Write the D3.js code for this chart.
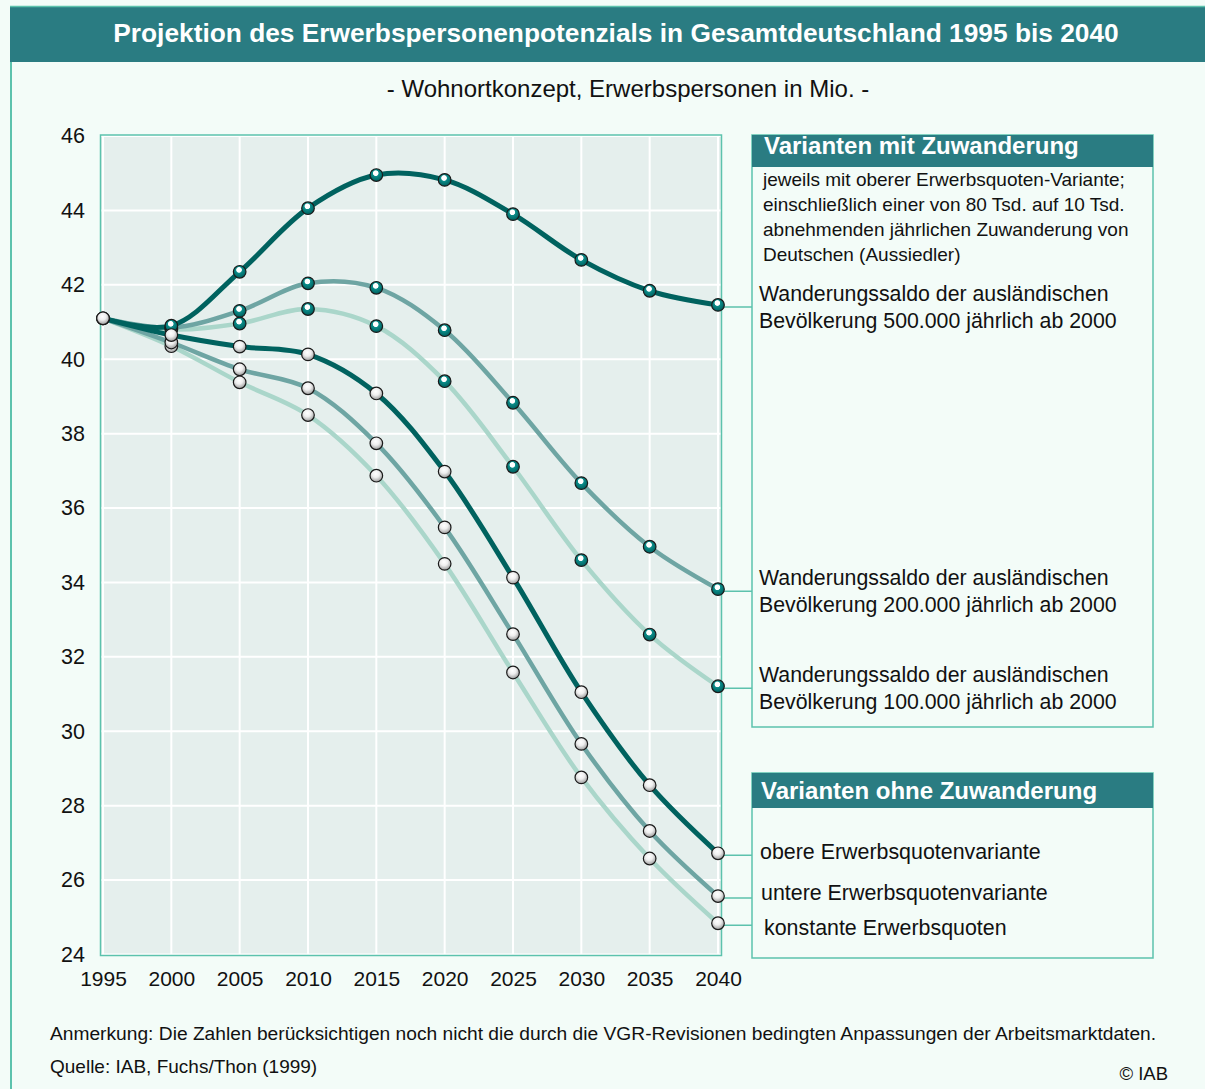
<!DOCTYPE html>
<html>
<head>
<meta charset="utf-8">
<script src="https://cdn.jsdelivr.net/npm/d3@7"></script>
<style>
  html, body { margin: 0; padding: 0; background: #f3fcf8; }
  svg { display: block; font-family: "Liberation Sans", Arial, sans-serif; }
</style>
</head>
<body>
<svg id="chart"></svg>
<script>
// data
const years = [1995, 2000, 2005, 2010, 2015, 2020, 2025, 2030, 2035, 2040];
const yTicks = [24, 26, 28, 30, 32, 34, 36, 38, 40, 42, 44, 46];

// Varianten mit Zuwanderung
const saldo500 = [41.1, 40.9, 42.35, 44.06, 44.95, 44.82, 43.9, 42.67, 41.84, 41.46];
const saldo200 = [41.1, 40.85, 41.3, 42.04, 41.92, 40.78, 38.83, 36.67, 34.96, 33.82];
const saldo100 = [41.1, 40.8, 40.96, 41.35, 40.89, 39.41, 37.11, 34.6, 32.6, 31.21];
// Varianten ohne Zuwanderung
const obereEQ = [41.1, 40.65, 40.34, 40.13, 39.08, 36.98, 34.13, 31.05, 28.55, 26.72];
const untereEQ = [41.1, 40.45, 39.73, 39.22, 37.74, 35.48, 32.61, 29.66, 27.32, 25.57];
const konstEQ = [41.1, 40.35, 39.38, 38.5, 36.87, 34.5, 31.58, 28.76, 26.58, 24.84];

const title = 'Projektion des Erwerbspersonenpotenzials in Gesamtdeutschland 1995 bis 2040';
const subtitle = '- Wohnortkonzept, Erwerbspersonen in Mio. -';
const note = 'Anmerkung: Die Zahlen berücksichtigen noch nicht die durch die VGR-Revisionen bedingten Anpassungen der Arbeitsmarktdaten.';
const source = 'Quelle: IAB, Fuchs/Thon (1999)';

const W = 1205, H = 1089;
const dark = '#00625f', mid = '#6ea5a3', light = '#aad6ca';
const head = '#2a7c82', frame = '#5cc2ad';

const svg = d3.select('#chart').attr('width', W).attr('height', H);

// gradients for the little balls
const defs = svg.append('defs');
const gT = defs.append('radialGradient').attr('id', 'ballT')
    .attr('cx', '0.45').attr('cy', '0.35').attr('r', '0.6');
gT.append('stop').attr('offset', '0').attr('stop-color', '#ffffff');
gT.append('stop').attr('offset', '0.32').attr('stop-color', '#ffffff');
gT.append('stop').attr('offset', '0.42').attr('stop-color', '#0b8c89');
gT.append('stop').attr('offset', '1').attr('stop-color', '#006462');
const gW = defs.append('radialGradient').attr('id', 'ballW')
    .attr('cx', '0.45').attr('cy', '0.35').attr('r', '0.65');
gW.append('stop').attr('offset', '0').attr('stop-color', '#ffffff');
gW.append('stop').attr('offset', '0.45').attr('stop-color', '#eeeeee');
gW.append('stop').attr('offset', '1').attr('stop-color', '#9a9a9a');

// page frame + header
svg.append('rect').attr('x', 0).attr('y', 0).attr('width', W).attr('height', H).attr('fill', '#f3fcf8');
svg.append('line').attr('x1', 11).attr('x2', 11).attr('y1', 6).attr('y2', H)
    .attr('stroke', frame).attr('stroke-width', 2);
svg.append('rect').attr('x', 10).attr('y', 6).attr('width', W - 10).attr('height', 56)
    .attr('fill', head);
svg.append('line').attr('x1', 10).attr('x2', W).attr('y1', 6.5).attr('y2', 6.5)
    .attr('stroke', frame).attr('stroke-width', 1.5);
svg.append('text').attr('x', 616).attr('y', 42).attr('text-anchor', 'middle')
    .attr('fill', '#fff').attr('font-weight', 'bold').attr('font-size', 26.3)
    .text(title);
svg.append('text').attr('x', 628).attr('y', 97).attr('text-anchor', 'middle')
    .attr('fill', '#111').attr('font-size', 24).text(subtitle);

// plot
const x = d3.scaleLinear().domain([1995, 2040]).range([103, 718]);
const y = d3.scaleLinear().domain([24, 46]).range([954.5, 136]);
const plotL = 101, plotR = 721;

svg.append('rect').attr('x', plotL).attr('y', y(46)).attr('width', plotR - plotL)
    .attr('height', y(24) - y(46)).attr('fill', '#e5efed');

const grid = svg.append('g').attr('stroke', '#ffffff').attr('stroke-width', 2);
grid.selectAll('.gy').data(yTicks).join('line')
    .attr('x1', plotL).attr('x2', plotR).attr('y1', d => y(d)).attr('y2', d => y(d));
grid.selectAll('.gx').data(years).join('line')
    .attr('x1', d => x(d)).attr('x2', d => x(d)).attr('y1', y(46)).attr('y2', y(24));

svg.append('rect').attr('x', plotL - 0.5).attr('y', y(46) - 1).attr('width', plotR - plotL + 1)
    .attr('height', y(24) - y(46) + 2).attr('fill', 'none')
    .attr('stroke', frame).attr('stroke-width', 1.5);

// axes as text (no tick lines in the original)
const yAxis = d3.axisLeft(y).tickValues(yTicks).tickSize(0).tickPadding(16);
svg.append('g').attr('transform', `translate(${plotL},0)`).call(yAxis)
    .call(g => g.select('.domain').remove())
    .selectAll('text').attr('font-size', 21.5).attr('fill', '#111')
    .attr('font-family', '"Liberation Sans", Arial, sans-serif');
const xAxis = d3.axisBottom(x).tickValues(years).tickFormat(d3.format('d')).tickSize(0).tickPadding(17);
svg.append('g').attr('transform', `translate(0,${y(24)})`).call(xAxis)
    .call(g => g.select('.domain').remove())
    .selectAll('text').attr('font-size', 21).attr('fill', '#111')
    .attr('font-family', '"Liberation Sans", Arial, sans-serif');

const series = [
  { vals: saldo100, color: light, ball: 'ballT', w: 4.5 },
  { vals: saldo200, color: mid, ball: 'ballT', w: 4.5 },
  { vals: saldo500, color: dark, ball: 'ballT', w: 5 },
  { vals: konstEQ, color: light, ball: 'ballW', w: 4.5 },
  { vals: untereEQ, color: mid, ball: 'ballW', w: 4.5 },
  { vals: obereEQ, color: dark, ball: 'ballW', w: 5 }
];

const line = d3.line()
    .x((d, i) => x(years[i]))
    .y(d => y(d))
    .curve(d3.curveCatmullRom.alpha(0.5));

svg.append('g').selectAll('path').data(series).join('path')
    .attr('d', d => line(d.vals))
    .attr('fill', 'none').attr('stroke', d => d.color).attr('stroke-width', d => d.w)
    .attr('stroke-linecap', 'round');

// connectors from end points to legend boxes
const boxL = 752, boxR = 1153;
svg.append('g').selectAll('line').data(series).join('line')
    .attr('x1', x(2040)).attr('x2', boxL)
    .attr('y1', d => y(d.vals[d.vals.length - 1]) + 2)
    .attr('y2', d => y(d.vals[d.vals.length - 1]) + 2)
    .attr('stroke', frame).attr('stroke-width', 1.5);

// markers: migration series from 2000, then the white ones on top
series.forEach(s => {
  s.pts = s.ball === 'ballT' ? s.vals.slice(1).map((v, i) => [years[i + 1], v])
                             : s.vals.map((v, i) => [years[i], v]);
});
const ballOrder = series.filter(s => s.ball === 'ballT').concat(series.filter(s => s.ball === 'ballW'));
ballOrder.forEach(s => {
  svg.append('g').selectAll('circle').data(s.pts).join('circle')
      .attr('cx', d => x(d[0])).attr('cy', d => y(d[1])).attr('r', 6.3)
      .attr('fill', `url(#${s.ball})`).attr('stroke', '#1a1a1a').attr('stroke-width', 1.2);
});

// legend box 1
const b1 = svg.append('g');
b1.append('rect').attr('x', boxL).attr('y', 135).attr('width', boxR - boxL).attr('height', 592)
    .attr('fill', '#f3fcf8').attr('stroke', frame).attr('stroke-width', 1.5);
b1.append('rect').attr('x', boxL).attr('y', 135).attr('width', boxR - boxL).attr('height', 32)
    .attr('fill', head);
b1.append('text').attr('x', 764).attr('y', 154).attr('fill', '#fff').attr('font-weight', 'bold')
    .attr('font-size', 24).text('Varianten mit Zuwanderung');
const desc = ['jeweils mit oberer Erwerbsquoten-Variante;',
  'einschließlich einer von 80 Tsd. auf 10 Tsd.',
  'abnehmenden jährlichen Zuwanderung von',
  'Deutschen (Aussiedler)'];
b1.selectAll('.desc').data(desc).join('text')
    .attr('x', 763).attr('y', (d, i) => 186 + i * 25).attr('font-size', 19).attr('fill', '#111')
    .text(d => d);

const migLabels = [
  { s: saldo500, lines: ['Wanderungssaldo der ausländischen', 'Bevölkerung 500.000 jährlich ab 2000'] },
  { s: saldo200, lines: ['Wanderungssaldo der ausländischen', 'Bevölkerung 200.000 jährlich ab 2000'] },
  { s: saldo100, lines: ['Wanderungssaldo der ausländischen', 'Bevölkerung 100.000 jährlich ab 2000'] }
];
migLabels.forEach(l => {
  const yy = y(l.s[l.s.length - 1]);
  b1.append('text').attr('x', 759).attr('y', yy - 4).attr('font-size', 21.3).attr('fill', '#111').text(l.lines[0]);
  b1.append('text').attr('x', 759).attr('y', yy + 23).attr('font-size', 21.3).attr('fill', '#111').text(l.lines[1]);
});

// legend box 2
const b2 = svg.append('g');
b2.append('rect').attr('x', boxL).attr('y', 773).attr('width', boxR - boxL).attr('height', 185)
    .attr('fill', '#f3fcf8').attr('stroke', frame).attr('stroke-width', 1.5);
b2.append('rect').attr('x', boxL).attr('y', 773).attr('width', boxR - boxL).attr('height', 35)
    .attr('fill', head);
b2.append('text').attr('x', 761).attr('y', 799).attr('fill', '#fff').attr('font-weight', 'bold')
    .attr('font-size', 24).text('Varianten ohne Zuwanderung');
const noMigLabels = [
  { s: obereEQ, text: 'obere Erwerbsquotenvariante', dx: 760, dy: 6 },
  { s: untereEQ, text: 'untere Erwerbsquotenvariante', dx: 761, dy: 4 },
  { s: konstEQ, text: 'konstante Erwerbsquoten', dx: 764, dy: 12 }
];
noMigLabels.forEach(l => {
  b2.append('text').attr('x', l.dx).attr('y', y(l.s[l.s.length - 1]) + l.dy)
      .attr('font-size', 21.4).attr('fill', '#111').text(l.text);
});

// footer
svg.append('text').attr('x', 50).attr('y', 1040).attr('font-size', 19.2).attr('fill', '#111').text(note);
svg.append('text').attr('x', 50).attr('y', 1073).attr('font-size', 19).attr('fill', '#111').text(source);
svg.append('text').attr('x', 1168).attr('y', 1080).attr('text-anchor', 'end').attr('font-size', 18.5)
    .attr('fill', '#111').text('© IAB');
</script>
</body>
</html>
